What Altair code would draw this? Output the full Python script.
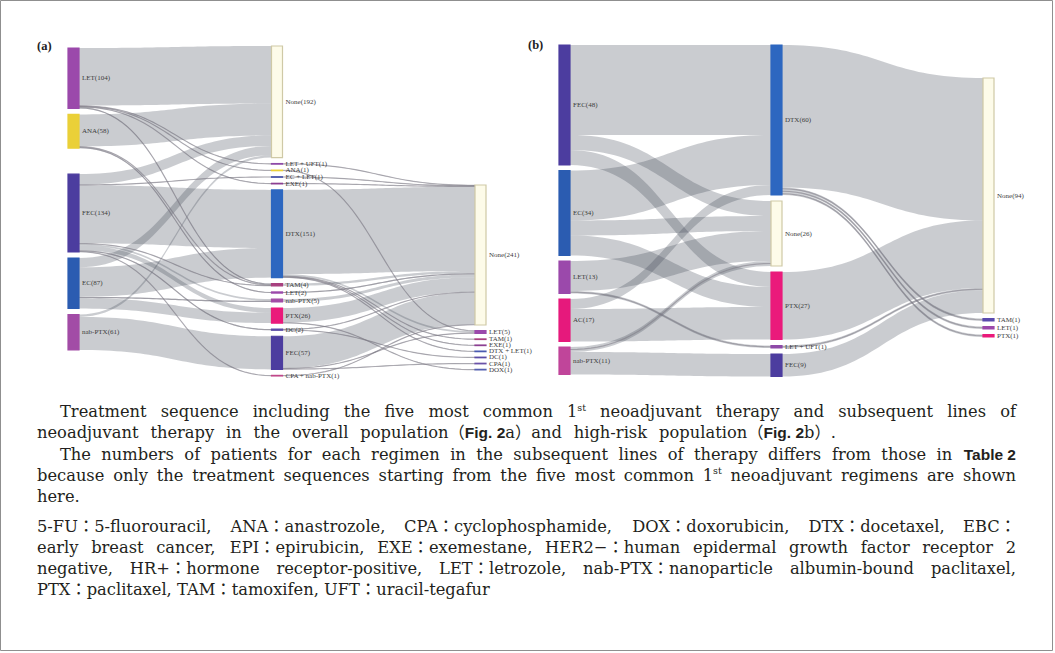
import re
import numpy as np
import pandas as pd
import altair as alt

W, H = 1055, 653

# ---------------- (a) overall population ----------------
A_COL1 = ["LET", "ANA", "FEC", "EC", "nab-PTX"]
A_COL1_N = [104, 58, 134, 87, 61]
A_COL2 = ["None", "LET + UFT", "ANA", "EC + LET", "EXE", "DTX", "TAM", "LET",
          "nab-PTX", "PTX", "DC", "FEC", "CPA + nab-PTX"]
A_COL2_N = [192, 1, 1, 1, 1, 151, 4, 2, 5, 26, 2, 57, 1]
A_COL3 = ["None", "LET", "TAM", "EXE", "DTX + LET", "DC", "CPA", "DOX"]
A_COL3_N = [241, 5, 1, 1, 1, 1, 1, 1]

A_FLOWS_12 = [
    ("LET", "None", 99), ("LET", "LET + UFT", 1), ("LET", "ANA", 1), ("LET", "EXE", 1), ("LET", "TAM", 2),
    ("ANA", "None", 55), ("ANA", "LET", 2), ("ANA", "TAM", 1),
    ("FEC", "None", 18), ("FEC", "DTX", 100), ("FEC", "TAM", 1), ("FEC", "nab-PTX", 3),
    ("FEC", "PTX", 8), ("FEC", "DC", 2), ("FEC", "EC + LET", 1), ("FEC", "CPA + nab-PTX", 1),
    ("EC", "None", 16), ("EC", "DTX", 51), ("EC", "nab-PTX", 2), ("EC", "PTX", 18),
    ("nab-PTX", "FEC", 57), ("nab-PTX", "None", 4),
]
A_FLOWS_23 = [
    ("LET + UFT", "None", 1), ("ANA", "LET", 1), ("EC + LET", "None", 1), ("EXE", "None", 1),
    ("DTX", "None", 145), ("DTX", "LET", 3), ("DTX", "TAM", 1), ("DTX", "DTX + LET", 1), ("DTX", "EXE", 1),
    ("TAM", "None", 4), ("LET", "None", 2), ("nab-PTX", "None", 5),
    ("PTX", "None", 25), ("PTX", "DOX", 1),
    ("DC", "None", 1), ("DC", "DC", 1),
    ("FEC", "None", 55), ("FEC", "LET", 1), ("FEC", "CPA", 1),
    ("CPA + nab-PTX", "None", 1),
]

# ---------------- (b) high-risk population ----------------
B_COL1 = ["FEC", "EC", "LET", "AC", "nab-PTX"]
B_COL1_N = [48, 34, 13, 17, 11]
B_COL2 = ["DTX", "None", "PTX", "LET + UFT", "FEC"]
B_COL2_N = [60, 26, 27, 1, 9]
B_COL3 = ["None", "TAM", "LET", "PTX"]
B_COL3_N = [94, 1, 1, 1]

B_FLOWS_12 = [
    ("FEC", "DTX", 36), ("FEC", "None", 6), ("FEC", "PTX", 6),
    ("EC", "DTX", 20), ("EC", "None", 6), ("EC", "PTX", 8),
    ("LET", "None", 12), ("LET", "LET + UFT", 1),
    ("AC", "DTX", 4), ("AC", "PTX", 13),
    ("nab-PTX", "FEC", 9), ("nab-PTX", "None", 2),
]
B_FLOWS_23 = [
    ("DTX", "None", 57), ("DTX", "TAM", 1), ("DTX", "LET", 1), ("DTX", "PTX", 1),
    ("PTX", "None", 27), ("LET + UFT", "None", 1), ("FEC", "None", 9),
]

COLORS = {
    "LET": "#9b49ab", "ANA": "#ead038", "FEC": "#4c3d9f", "EC": "#2b5cb1",
    "nab-PTX": "#a24ca6", "None": "#fdfbe9", "DTX": "#2d67c0", "TAM": "#a8407f",
    "PTX": "#ea1a7b", "DC": "#5b4ca6", "LET + UFT": "#8e4aa8", "EC + LET": "#4d58a8",
    "EXE": "#8c3f92", "CPA + nab-PTX": "#c0488a", "DTX + LET": "#4a5ab0",
    "CPA": "#6a52a8", "DOX": "#5560b0", "AC": "#e6197c",
}
B_COLORS = dict(COLORS, **{"nab-PTX": "#c0459a", "TAM": "#5a4aae"})

# layout of each panel (pixels)
PANEL_A = dict(x_first=68, x_last=475, top=46, k=0.581, node_w=11,
               start=[2, 0, 139], pad=[6, 6, 5.5], extra={(0, "FEC"): 20})
PANEL_B = dict(x_first=559, x_last=983, top=45, k=2.5, node_w=11,
               start=[0, 0, 33], pad=[5.5, 6, 5.5], extra={})

LINK_FILL = "#3a4250"


def sankey_frames(cols, counts, flows, cfg, colors):
    k = cfg["k"]
    unit = (cfg["x_last"] - cfg["x_first"]) / 2.0
    nw = cfg["node_w"] / unit
    nodes = {}
    for c, (names, ns) in enumerate(zip(cols, counts)):
        y = cfg["start"][c] / k
        for i, (nm, n) in enumerate(zip(names, ns)):
            if i:
                y += cfg["pad"][c] / k
            y += cfg["extra"].get((c, nm), 0) / k
            nodes[(c, nm)] = dict(col=c, name=nm, n=n, y0=y, y1=y + n)
            y += n
    links = []
    for s, fl in enumerate(flows):
        for a, b, v in fl:
            links.append(dict(s=(s, a), t=(s + 1, b), v=v))
    for key, nd in nodes.items():
        outs = sorted([l for l in links if l["s"] == key], key=lambda l: nodes[l["t"]]["y0"])
        y = nd["y0"]
        for l in outs:
            l["sy"] = y
            y += l["v"]
        ins = sorted([l for l in links if l["t"] == key], key=lambda l: nodes[l["s"]]["y0"])
        y = nd["y0"]
        for l in ins:
            l["ty"] = y
            y += l["v"]

    t = np.linspace(0, 1, 41)
    fx = 1.5 * t - 1.5 * t ** 2 + t ** 3
    fy = 3 * t ** 2 - 2 * t ** 3
    area_rows, thin_rows = [], []
    for i, l in enumerate(links):
        c = l["s"][0]
        x0, x1 = c + nw, c + 1
        xs = x0 + (x1 - x0) * fx
        yt = l["sy"] + (l["ty"] - l["sy"]) * fy
        for xx, yy in zip(xs, yt):
            area_rows.append(dict(id=i, x=xx, yt=yy, yb=yy + l["v"]))
            if l["v"] <= 2:
                thin_rows.append(dict(id=i, x=xx, ym=yy + l["v"] / 2))

    node_rows = []
    lab_dx = 3 / unit
    for nd in nodes.values():
        col = colors[nd["name"]]
        node_rows.append(dict(
            x0=nd["col"], x1=nd["col"] + nw, y0=nd["y0"], y1=nd["y1"],
            ym=(nd["y0"] + nd["y1"]) / 2, lx=nd["col"] + nw + lab_dx,
            label=f"{nd['name']}({nd['n']})", color=col,
            stroke="#cfc9a6" if nd["name"] == "None" else col,
        ))
    return pd.DataFrame(area_rows), pd.DataFrame(thin_rows), pd.DataFrame(node_rows)


def sankey_panel(cols, counts, flows, cfg, colors, tag):
    areas, thin, nodes = sankey_frames(cols, counts, flows, cfg, colors)
    dom = 800 if cfg["k"] < 1 else 150
    xs = alt.Scale(domain=[0, 2], range=[cfg["x_first"], cfg["x_last"]], nice=False, zero=False)
    ys = alt.Scale(domain=[0, dom], range=[cfg["top"], cfg["top"] + dom * cfg["k"]], nice=False, zero=False)

    link_layer = alt.Chart(areas).mark_area(color=LINK_FILL, opacity=0.27).encode(
        x=alt.X("x:Q", scale=xs, axis=None),
        y=alt.Y("yt:Q", scale=ys, axis=None, stack=None),
        y2="yb:Q",
        detail="id:N",
    )
    thin_layer = alt.Chart(thin).mark_line(color="#7d7a85", opacity=0.55, strokeWidth=1.2).encode(
        x=alt.X("x:Q", scale=xs, axis=None),
        y=alt.Y("ym:Q", scale=ys, axis=None),
        detail="id:N",
    )
    node_layer = alt.Chart(nodes).mark_rect(strokeWidth=1.2).encode(
        x=alt.X("x0:Q", scale=xs, axis=None), x2="x1:Q",
        y=alt.Y("y0:Q", scale=ys, axis=None), y2="y1:Q",
        color=alt.Color("color:N", scale=None),
        stroke=alt.Stroke("stroke:N", scale=None),
    )
    label_layer = alt.Chart(nodes).mark_text(
        align="left", baseline="middle", font="Liberation Serif", fontSize=7, color="#3c3c3c"
    ).encode(
        x=alt.X("lx:Q", scale=xs, axis=None),
        y=alt.Y("ym:Q", scale=ys, axis=None),
        text="label:N",
    )
    tag_layer = alt.Chart(pd.DataFrame({"t": [tag]})).mark_text(
        align="left", baseline="middle", font="Liberation Serif", fontSize=12.5,
        fontWeight="bold", color="#222222"
    ).encode(
        x=alt.value(cfg["x_first"] - 31), y=alt.value(cfg["top"]), text="t:N"
    )
    return alt.layer(link_layer, thin_layer, node_layer, label_layer, tag_layer)


# ---------------- caption ----------------
CAPTION_PARAS = [
    ["Treatment sequence including the five most common 1[st] neoadjuvant therapy and subsequent lines of",
     "neoadjuvant therapy in the overall population（{Fig.~2}a）and high-risk population（{Fig.~2}b）."],
    ["The numbers of patients for each regimen in the subsequent lines of therapy differs from those in {Table~2}",
     "because only the treatment sequences starting from the five most common 1[st] neoadjuvant regimens are shown",
     "here."],
    ["5-FU：5-fluorouracil, ANA：anastrozole, CPA：cyclophosphamide, DOX：doxorubicin, DTX：docetaxel, EBC：",
     "early breast cancer, EPI：epirubicin, EXE：exemestane, HER2−：human epidermal growth factor receptor 2",
     "negative, HR+：hormone receptor-positive, LET：letrozole, nab-PTX：nanoparticle albumin-bound paclitaxel,",
     "PTX：paclitaxel, TAM：tamoxifen, UFT：uracil-tegafur"],
]
PARA_INDENT = [True, True, False]
# lines set to a measure narrower than the full column: (paragraph, line) -> right edge
SHORT_MEASURE = {(0, 1): 836}

FS = 16.3          # body text size
BOLD_FS = 15.5     # bold sans reference size
SUP_FS = 9.5
LEFT, RIGHT, INDENT = 37, 1016, 23
FIRST_BASE, STEP, PARA_GAP = 417, 21.3, [0, 8]

SERIF_EM = dict(zip(
    "abcdefghijklmnopqrstuvwxyz",
    [.596, .640, .560, .640, .592, .370, .640, .644, .320, .310, .618, .320, .948,
     .644, .602, .640, .640, .478, .513, .402, .644, .565, .856, .564, .565, .523]))
SERIF_EM.update(dict(zip(
    "ABCDEFGHIJKLMNOPQRSTUVWXYZ",
    [.722, .735, .765, .802, .730, .694, .799, .872, .395, .401, .747, .664, 1.024,
     .875, .820, .673, .820, .753, .685, .667, .843, .722, 1.028, .712, .660, .695])))
SERIF_EM.update({d: .636 for d in "0123456789"})
SERIF_EM.update({" ": .318, ",": .318, ".": .318, "-": .338, ":": .337, "(": .39, ")": .39,
                 "+": .838, "−": .838})
FULL_WIDTH = "（）："
BOLD_EM = {"F": .611, "i": .278, "g": .611, ".": .278, " ": .278, "2": .556,
           "T": .611, "a": .556, "b": .611, "l": .278, "e": .556}


def serif_w(text, size):
    return sum(1.0 if ch in FULL_WIDTH else SERIF_EM.get(ch, .6) for ch in text) * size


def run_width(text, style):
    if style == "bold":
        return sum(BOLD_EM.get(ch, .6) for ch in text) * BOLD_FS
    if style == "sup":
        return serif_w(text, SUP_FS)
    return serif_w(text, FS)


def parse_word(word):
    runs = []
    for tok in re.findall(r"\{[^}]*\}|\[[^\]]*\]|[^{\[]+", word):
        if tok.startswith("{"):
            runs.append((tok[1:-1].replace("~", " "), "bold"))
        elif tok.startswith("["):
            runs.append((tok[1:-1], "sup"))
        else:
            runs.append((tok, "serif"))
    return runs


caption_rows = []
base = FIRST_BASE
for p, lines in enumerate(CAPTION_PARAS):
    for li, line in enumerate(lines):
        left = LEFT + (INDENT if (li == 0 and PARA_INDENT[p]) else 0)
        last = li == len(lines) - 1
        plain = not re.search(r"[{\[]", line)
        if last and (p, li) not in SHORT_MEASURE and plain:
            # a closing line in one face is set as a single run
            caption_rows.append(dict(text=line, style="serif", x=left, y=base))
            base += STEP
            continue
        words = [parse_word(w) for w in line.split(" ")]
        widths = [sum(run_width(t, s) for t, s in w) for w in words]
        right = SHORT_MEASURE.get((p, li), RIGHT)
        gap = (right - left - sum(widths)) / max(len(words) - 1, 1)
        x = left
        for wi, (w, ww) in enumerate(zip(words, widths)):
            if wi == len(words) - 1 and len(w) == 1:
                caption_rows.append(dict(text=w[0][0], style=w[0][1] + "_r", x=right, y=base))
                break
            rx = x
            for t, s in w:
                yy = base - 6.5 if s == "sup" else base
                caption_rows.append(dict(text=t, style=s, x=rx, y=yy))
                rx += run_width(t, s)
            x += ww + gap
        base += STEP
    if p < len(PARA_GAP):
        base += PARA_GAP[p]

cap = pd.DataFrame(caption_rows)
cx = alt.Scale(domain=[0, W], range=[0, W], nice=False, zero=False)
cy = alt.Scale(domain=[0, H], range=[0, H], nice=False, zero=False)
SERIF_FONT = "DejaVu Serif, Noto Sans CJK JP"
BOLD_FONT = "Liberation Sans"


def caption_layer(style, font, size, align, weight="normal"):
    return alt.Chart(cap[cap["style"] == style]).mark_text(
        align=align, baseline="alphabetic", font=font, fontSize=size,
        fontWeight=weight, color="#231f20"
    ).encode(
        x=alt.X("x:Q", scale=cx, axis=None),
        y=alt.Y("y:Q", scale=cy, axis=None),
        text="text:N",
    )


caption = alt.layer(
    caption_layer("serif", SERIF_FONT, FS, "left"),
    caption_layer("serif_r", SERIF_FONT, FS, "right"),
    caption_layer("bold", BOLD_FONT, BOLD_FS, "left", "bold"),
    caption_layer("bold_r", BOLD_FONT, BOLD_FS, "right", "bold"),
    caption_layer("sup", SERIF_FONT, SUP_FS, "left"),
)

frame = alt.Chart(pd.DataFrame({"f": [0]})).mark_rect(
    fillOpacity=0, stroke="#8f8f8f", strokeWidth=1
).encode(x=alt.value(0.5), x2=alt.value(W - 2.5), y=alt.value(0.5), y2=alt.value(H - 2.5))

panel_a = sankey_panel([A_COL1, A_COL2, A_COL3], [A_COL1_N, A_COL2_N, A_COL3_N],
                       [A_FLOWS_12, A_FLOWS_23], PANEL_A, COLORS, "(a)")
panel_b = sankey_panel([B_COL1, B_COL2, B_COL3], [B_COL1_N, B_COL2_N, B_COL3_N],
                       [B_FLOWS_12, B_FLOWS_23], PANEL_B, B_COLORS, "(b)")

chart = alt.layer(frame, panel_a, panel_b, caption).resolve_scale(
    x="independent", y="independent"
).properties(
    width=W, height=H, padding=0, autosize=alt.AutoSizeParams(type="none"),
    background="white",
).configure_view(stroke=None)

chart.save("out.html", embed_options={"renderer": "svg", "actions": False})
